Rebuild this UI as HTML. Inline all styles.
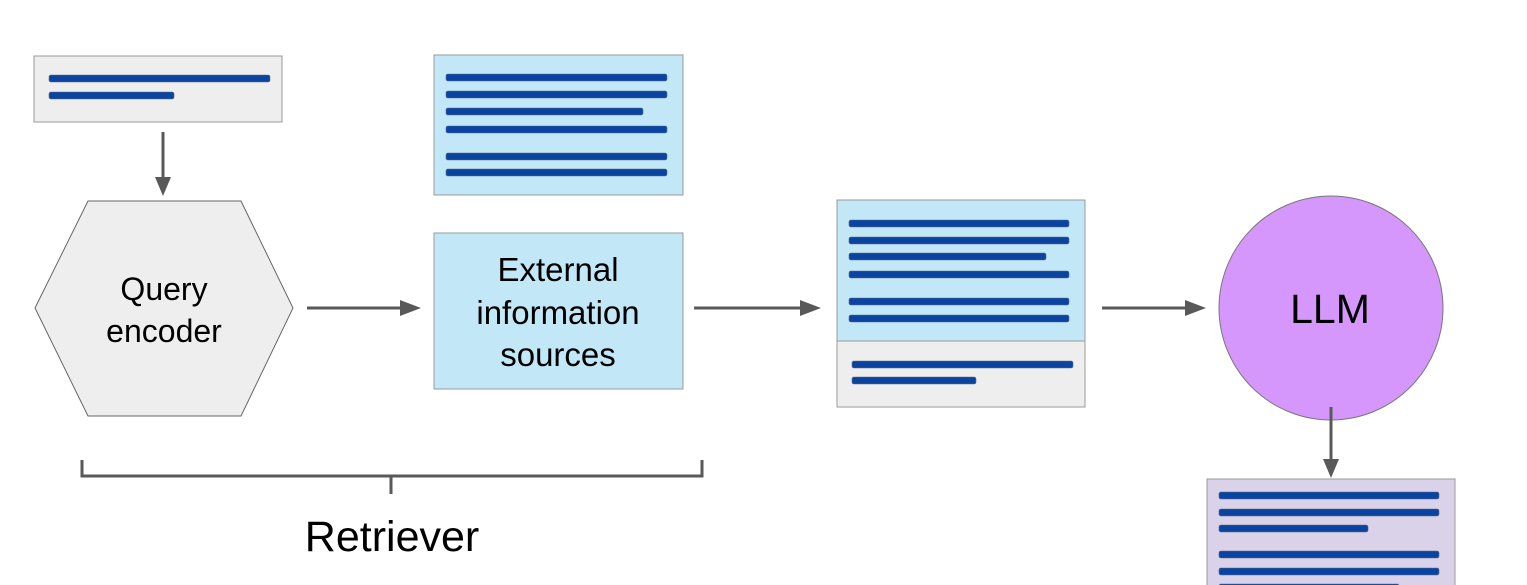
<!DOCTYPE html>
<html><head><meta charset="utf-8"><style>
html,body{margin:0;padding:0;background:#fff;}
svg{display:block;}
text{font-family:"Liberation Sans",sans-serif;fill:#000;}
</style></head><body>
<svg width="1527" height="585" viewBox="0 0 1527 585" xmlns="http://www.w3.org/2000/svg">
<g stroke="#999" stroke-width="1">
<rect x="34" y="56" width="248" height="66" fill="#eeeeee"/>
<polygon points="35,308 88,201 241,201 293,308 241,416 88,416" fill="#eeeeee" stroke="#666"/>
<rect x="434" y="55" width="249" height="140" fill="#c2e7f7"/>
<rect x="434" y="233" width="249" height="156" fill="#c2e7f7"/>
<rect x="837" y="200" width="248" height="141" fill="#c2e7f7"/>
<rect x="837" y="341" width="248" height="66" fill="#eeeeee"/>
<ellipse cx="1331" cy="308" rx="112" ry="112" fill="#d597fb" stroke="#777"/>
<rect x="1207" y="479" width="248" height="120" fill="#d9d2e9"/>
</g>
<g fill="#0b44a0" stroke="#5a6a8a" stroke-width="0.6">
<rect x="49" y="75" width="221" height="7" rx="2"/>
<rect x="49" y="92" width="125" height="7" rx="2"/>
<rect x="446" y="74" width="221" height="7" rx="2"/>
<rect x="446" y="91" width="221" height="7" rx="2"/>
<rect x="446" y="108" width="197" height="7" rx="2"/>
<rect x="446" y="126" width="221" height="7" rx="2"/>
<rect x="446" y="153" width="221" height="7" rx="2"/>
<rect x="446" y="169" width="221" height="7" rx="2"/>
<rect x="849" y="220" width="220" height="7" rx="2"/>
<rect x="849" y="237" width="220" height="7" rx="2"/>
<rect x="849" y="253" width="197" height="7" rx="2"/>
<rect x="849" y="271" width="220" height="7" rx="2"/>
<rect x="849" y="298" width="220" height="7" rx="2"/>
<rect x="849" y="315" width="220" height="7" rx="2"/>
<rect x="852" y="361" width="221" height="7" rx="2"/>
<rect x="852" y="377" width="124" height="7" rx="2"/>
<rect x="1219" y="492" width="220" height="7" rx="2"/>
<rect x="1219" y="509" width="220" height="7" rx="2"/>
<rect x="1219" y="525" width="149" height="7" rx="2"/>
<rect x="1219" y="551" width="220" height="7" rx="2"/>
<rect x="1219" y="568" width="220" height="7" rx="2"/>
<rect x="1219" y="584" width="180" height="7" rx="2"/>
</g>
<g stroke="#595959" stroke-width="3" fill="none">
<line x1="163" y1="132" x2="163" y2="180"/>
<line x1="307" y1="308" x2="402" y2="308"/>
<line x1="694" y1="308" x2="802" y2="308"/>
<line x1="1102" y1="308" x2="1187" y2="308"/>
<line x1="1331" y1="407" x2="1331" y2="462"/>
<polyline points="82,460 82,476 702,476 702,460"/>
<line x1="391" y1="476" x2="391" y2="494"/>
</g>
<g fill="#595959">
<polygon points="155,177 171,177 163,196"/>
<polygon points="400,300 400,316 421,308"/>
<polygon points="800,300 800,316 821,308"/>
<polygon points="1185,300 1185,316 1206,308"/>
<polygon points="1323,459 1339,459 1331,478"/>
</g>
<g text-anchor="middle">
<text x="164" y="300" font-size="32">Query</text>
<text x="164" y="342" font-size="32">encoder</text>
<text x="558" y="281" font-size="33">External</text>
<text x="558" y="324" font-size="33">information</text>
<text x="558" y="366" font-size="33">sources</text>
<text x="1330" y="323" font-size="41">LLM</text>
<text x="392" y="551" font-size="43">Retriever</text>
</g>
</svg>
</body></html>
